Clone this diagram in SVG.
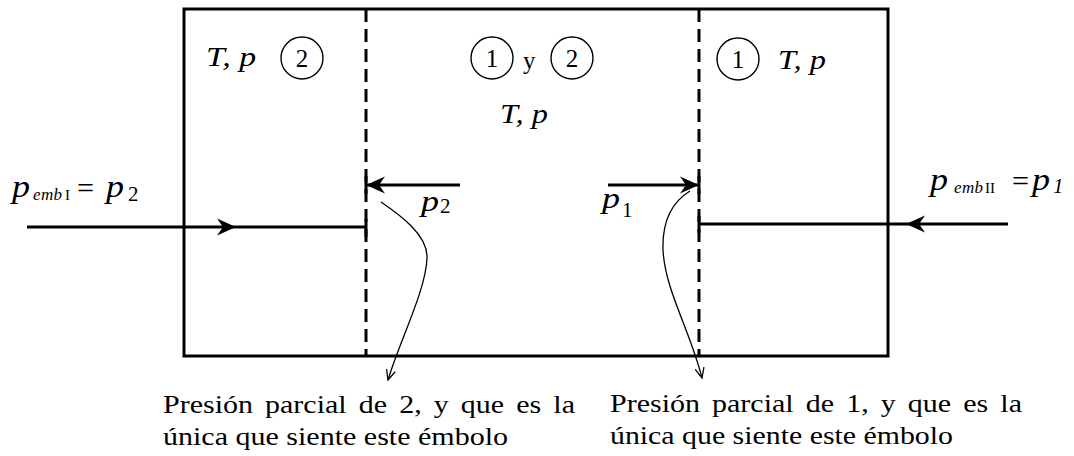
<svg xmlns="http://www.w3.org/2000/svg" width="1074" height="456" viewBox="0 0 1074 456" font-family="'Liberation Serif', 'Times New Roman', Times, serif">
<style>
text{font-family:'Liberation Serif','Times New Roman',Times,serif;fill:#000}
.it{font-style:italic}
.big{font-size:31px}
.sub{font-size:17px}
.num{font-size:25px;text-anchor:middle}
.lbl{font-size:28px;font-style:italic}
.note{font-size:26px}
.circ{fill:none;stroke:#000;stroke-width:1.4}
.thick{fill:none;stroke:#000;stroke-width:3}
.dash{fill:none;stroke:#000;stroke-width:3;stroke-dasharray:13 7}
.thin{fill:none;stroke:#000;stroke-width:1.3}
</style>
<defs>
<marker id="barb" markerUnits="userSpaceOnUse" viewBox="-20 -10 22 20" refX="0" refY="0" markerWidth="22" markerHeight="20" orient="auto">
<path d="M1,0 L-18,-8.5 L-12,0 L-18,8.5 Z" fill="#000"/>
</marker>
<marker id="vee" markerUnits="userSpaceOnUse" viewBox="-12 -7 14 14" refX="0" refY="0" markerWidth="14" markerHeight="14" orient="auto">
<path d="M-10,-4.5 L0,0 L-10,4.5" fill="none" stroke="#000" stroke-width="1.3"/>
</marker>
</defs>
<rect width="1074" height="456" fill="#fff"/>

<g id="cylinder">
<rect class="thick" x="184" y="9" width="704" height="347"/>
</g>
<g id="piston-left">
<line class="dash" x1="366" y1="9" x2="366" y2="356"/>
<line class="thick" x1="366" y1="176" x2="366" y2="194"/>
<line class="thick" x1="366" y1="219" x2="366" y2="237"/>
</g>
<g id="piston-right">
<line class="dash" x1="699" y1="9" x2="699" y2="356"/>
<line class="thick" x1="699" y1="176" x2="699" y2="194"/>
<line class="thick" x1="699" y1="216" x2="699" y2="233"/>
</g>

<g id="zone-left">
<text class="lbl" x="206" y="66" textLength="50" lengthAdjust="spacingAndGlyphs">T, p</text>
<circle class="circ" cx="302" cy="58" r="21"/>
<text class="num" x="302" y="67">2</text>
</g>
<g id="zone-middle">
<circle class="circ" cx="492" cy="58" r="21"/>
<text class="num" x="492" y="67">1</text>
<text x="523" y="69" style="font-size:25px">y</text>
<circle class="circ" cx="572" cy="58" r="21"/>
<text class="num" x="572" y="67">2</text>
<text class="lbl" x="500" y="123" textLength="48" lengthAdjust="spacingAndGlyphs">T, p</text>
</g>
<g id="zone-right">
<circle class="circ" cx="738" cy="59" r="21"/>
<text class="num" x="738" y="68">1</text>
<text class="lbl" x="778" y="69" textLength="48" lengthAdjust="spacingAndGlyphs">T, p</text>
</g>

<g id="connectors">
<path class="thick" d="M27,227 L235,227 L366,227" marker-mid="url(#barb)"/>
<path class="thick" d="M1008,224 L907,224 L699,224" marker-mid="url(#barb)"/>
<path class="thick" d="M460,185 L367,185" marker-end="url(#barb)"/>
<path class="thick" d="M608,185 L698,185" marker-end="url(#barb)"/>
<path class="thin" d="M381,202 C400,215 428,235 427,258 C426,290 400,340 388,380" marker-end="url(#vee)"/>
<path class="thin" d="M690,191 C672,202 662,220 663,250 C665,290 690,330 702,378" marker-end="url(#vee)"/>
</g>

<g id="label-pemb-I">
<text class="it big" x="12" y="197" textLength="18" lengthAdjust="spacingAndGlyphs">p</text>
<text class="it sub" x="33" y="200" textLength="29">emb</text>
<text x="65" y="200" style="font-size:15px">I</text>
<text x="77" y="198" style="font-size:30px" textLength="17" lengthAdjust="spacingAndGlyphs">=</text>
<text class="it big" x="106" y="197" textLength="18" lengthAdjust="spacingAndGlyphs">p</text>
<text x="128" y="201" style="font-size:21px">2</text>
</g>
<g id="label-pemb-II">
<text class="it big" x="930" y="190" textLength="18" lengthAdjust="spacingAndGlyphs">p</text>
<text class="it sub" x="954" y="193" textLength="29">emb</text>
<text x="985" y="193" style="font-size:15px">II</text>
<text x="1012" y="191" style="font-size:30px" textLength="17" lengthAdjust="spacingAndGlyphs">=</text>
<text class="it big" x="1032" y="190" textLength="18" lengthAdjust="spacingAndGlyphs">p</text>
<text class="it" x="1053" y="193" style="font-size:21px">1</text>
</g>
<g id="label-p2">
<text class="it" x="421" y="211" style="font-size:29px" textLength="18" lengthAdjust="spacingAndGlyphs">p</text>
<text x="440" y="213" style="font-size:21px">2</text>
</g>
<g id="label-p1">
<text class="it" x="602" y="208" style="font-size:29px" textLength="18" lengthAdjust="spacingAndGlyphs">p</text>
<text x="622" y="217" style="font-size:21px">1</text>
</g>

<g id="note-left">
<text class="note" x="163" y="413" textLength="412" lengthAdjust="spacingAndGlyphs" style="word-spacing:4px">Presión parcial de 2, y que es la</text>
<text class="note" x="163" y="445" textLength="345" lengthAdjust="spacingAndGlyphs">única que siente este émbolo</text>
</g>
<g id="note-right">
<text class="note" x="610" y="412" textLength="412" lengthAdjust="spacingAndGlyphs" style="word-spacing:4px">Presión parcial de 1, y que es la</text>
<text class="note" x="610" y="444" textLength="343" lengthAdjust="spacingAndGlyphs">única que siente este émbolo</text>
</g>
</svg>
